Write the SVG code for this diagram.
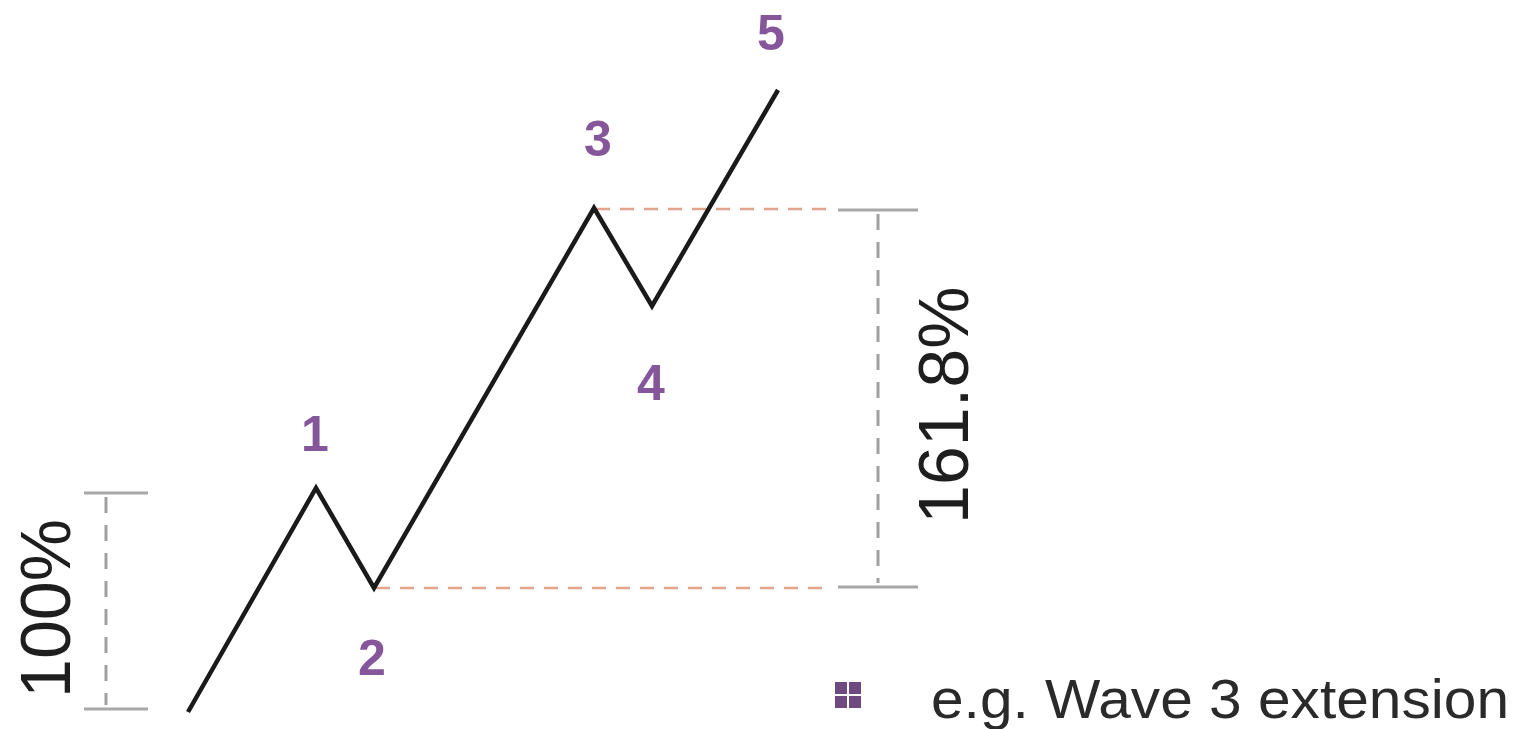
<svg xmlns="http://www.w3.org/2000/svg" width="1520" height="729" viewBox="0 0 1520 729">
<style>
.wave{fill:none;stroke:#1a1a1a;stroke-width:4.5;stroke-linejoin:miter}
.guide{fill:none;stroke:#e2a48c;stroke-width:2.5;stroke-dasharray:14 10}
.tick{fill:none;stroke:#a8a8a8;stroke-width:3}
.vdash{fill:none;stroke:#a0a0a0;stroke-width:3;stroke-dasharray:16 12}
.num{font-family:"Liberation Sans",Arial,sans-serif;font-weight:bold;font-size:50px;fill:#85569a;text-anchor:middle}
.pct{font-family:"Liberation Sans",Arial,sans-serif;font-size:70px;fill:#1e1e1e}
.leg{font-family:"Liberation Sans",Arial,sans-serif;font-size:56px;fill:#2a2a2a}
.sq{fill:#6e4a80}
</style>
<rect width="1520" height="729" fill="#ffffff"/>
<g id="connectors">
<line class="guide" x1="596" y1="209" x2="832" y2="209"/>
<line class="guide" x1="376" y1="588" x2="832" y2="588"/>
<polyline class="wave" points="188,712 316,488 374,588 594,208 652,306 778,90"/>
</g>
<g id="bracket-161">
<line class="tick" x1="838" y1="210" x2="918" y2="210"/>
<line class="tick" x1="838" y1="587" x2="918" y2="587"/>
<line class="vdash" x1="878" y1="214" x2="878" y2="583"/>
<text class="pct" transform="translate(968,524) rotate(-90)">161.8%</text>
</g>
<g id="bracket-100">
<line class="tick" x1="84" y1="493" x2="148" y2="493"/>
<line class="tick" x1="84" y1="709" x2="148" y2="709"/>
<line class="vdash" x1="106" y1="497" x2="106" y2="705"/>
<text class="pct" transform="translate(70,698) rotate(-90)">100%</text>
</g>
<g id="label-1"><text class="num" x="315" y="451">1</text></g>
<g id="label-2"><text class="num" x="372" y="675">2</text></g>
<g id="label-3"><text class="num" x="598" y="156">3</text></g>
<g id="label-4"><text class="num" x="651" y="400">4</text></g>
<g id="label-5"><text class="num" x="771" y="50">5</text></g>
<g id="legend">
<rect class="sq" x="835" y="682" width="12" height="12"/>
<rect class="sq" x="849" y="682" width="12" height="12"/>
<rect class="sq" x="835" y="696" width="12" height="12"/>
<rect class="sq" x="849" y="696" width="12" height="12"/>
<text class="leg" x="931" y="718" textLength="578" lengthAdjust="spacingAndGlyphs">e.g. Wave 3 extension</text>
</g>
</svg>
